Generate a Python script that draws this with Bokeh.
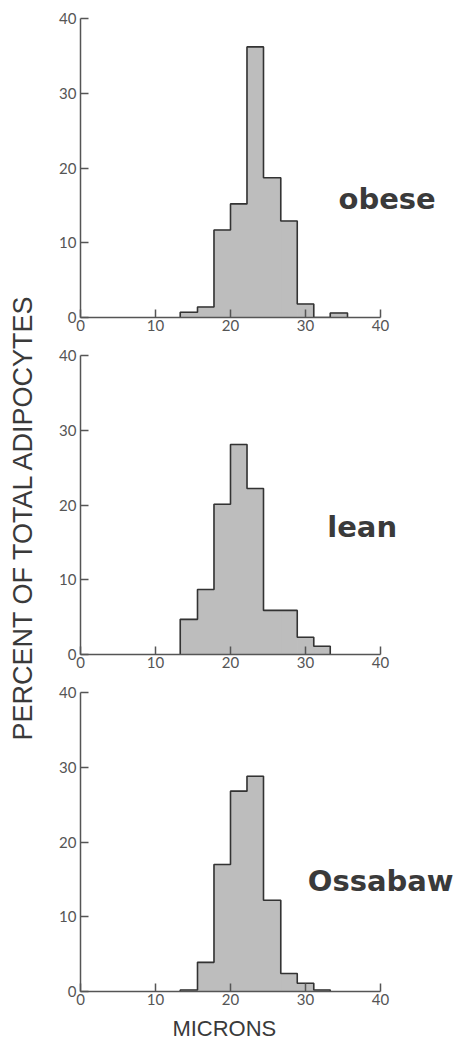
import math
from bokeh.plotting import figure
from bokeh.layouts import row, column
from bokeh.models import Range1d, FixedTicker
from bokeh.core.properties import value
from bokeh.embed import file_html
from bokeh.resources import INLINE

# ---- data ----
bin_edges = [13.3, 15.6, 17.8, 20.0, 22.2, 24.4, 26.7, 28.9, 31.1, 33.3, 35.6]
obese = [0.7, 1.4, 11.7, 15.2, 36.2, 18.7, 12.9, 1.8, 0.0, 0.6]
lean = [4.7, 8.7, 20.1, 28.1, 22.2, 5.9, 5.9, 2.3, 1.1, 0.0]
ossabaw = [0.2, 3.9, 17.0, 26.8, 28.8, 12.2, 2.4, 1.1, 0.2, 0.0]
groups = ["obese", "lean", "Ossabaw"]
ticks = [0, 10, 20, 30, 40]
y_label = "PERCENT  OF  TOTAL  ADIPOCYTES"
x_label = "MICRONS"

FILL = "#bdbdbd"
EDGE = "#333333"
AXC = "#555555"
TXT = "#3a3a3a"
SANS = "Liberation Sans"


def step_path(edges, heights):
    last = max(i for i, h in enumerate(heights) if h > 0)
    xs, ys = [edges[0]], [0]
    for i in range(last + 1):
        xs += [edges[i], edges[i + 1]]
        ys += [heights[i], heights[i]]
    xs.append(edges[last + 1])
    ys.append(0)
    return xs, ys


def panel(heights, name, h, top_border, bottom_border, lx, ly):
    p = figure(width=410, height=h, x_range=Range1d(0, 50.4), y_range=Range1d(0, 40),
               output_backend="svg", toolbar_location=None,
               min_border_left=32, min_border_right=0, min_border_top=top_border,
               min_border_bottom=bottom_border)
    p.outline_line_color = None
    p.grid.visible = False
    p.quad(left=bin_edges[:-1], right=bin_edges[1:], bottom=0, top=heights,
           fill_color=FILL, line_color=FILL, line_width=1)
    xs, ys = step_path(bin_edges, heights)
    p.line(xs, ys, line_color=EDGE, line_width=1.6)
    for ax in (p.xaxis[0], p.yaxis[0]):
        ax.ticker = FixedTicker(ticks=ticks)
        ax.minor_tick_line_color = None
        ax.major_tick_in = 8
        ax.major_tick_out = 0
        ax.axis_line_color = AXC
        ax.axis_line_width = 1.5
        ax.major_tick_line_color = AXC
        ax.major_tick_line_width = 1.5
        ax.major_label_text_font = "Lato"
        ax.major_label_text_font_size = "15px"
        ax.major_label_text_color = AXC
    p.xaxis.bounds = (0, 40)
    p.xaxis.major_label_standoff = 2
    p.yaxis.major_label_standoff = 4
    p.text(x=[lx], y=[ly], text=[name], text_font=value("DejaVu Sans"),
           text_font_style="bold", text_font_size="29px", text_color=TXT,
           text_align="left", text_baseline="alphabetic")
    return p


f1 = panel(obese, groups[0], 345, 18, 28, 34.4, 15.9)
f2 = panel(lean, groups[1], 337, 10, 28, 32.9, 17.1)
f3 = panel(ossabaw, groups[2], 330, 10, 21, 30.3, 14.8)

# strip under the last panel for the x-axis title
f4 = figure(width=410, height=30, x_range=Range1d(0, 410), y_range=Range1d(0, 30),
            output_backend="svg", toolbar_location=None, min_border=0,
            x_axis_type=None, y_axis_type=None)
f4.outline_line_color = None
f4.grid.visible = False
f4.text(x=[156], y=[14], text=[x_label], text_font=value(SANS),
        text_font_size="22px", text_color=TXT,
        text_align="center", text_baseline="middle")

lab = figure(width=48, height=1042, x_range=Range1d(0, 48), y_range=Range1d(0, 1042),
             output_backend="svg", toolbar_location=None, min_border=0,
             x_axis_type=None, y_axis_type=None)
lab.outline_line_color = None
lab.grid.visible = False
lab.text(x=[22], y=[537], text=[y_label], angle=math.pi / 2,
         text_font=value(SANS), text_font_size="27px", text_color=TXT,
         text_align="center", text_baseline="middle")

layout = row(lab, column(f1, f2, f3, f4))
open("out.html", "w").write(file_html(layout, INLINE))
